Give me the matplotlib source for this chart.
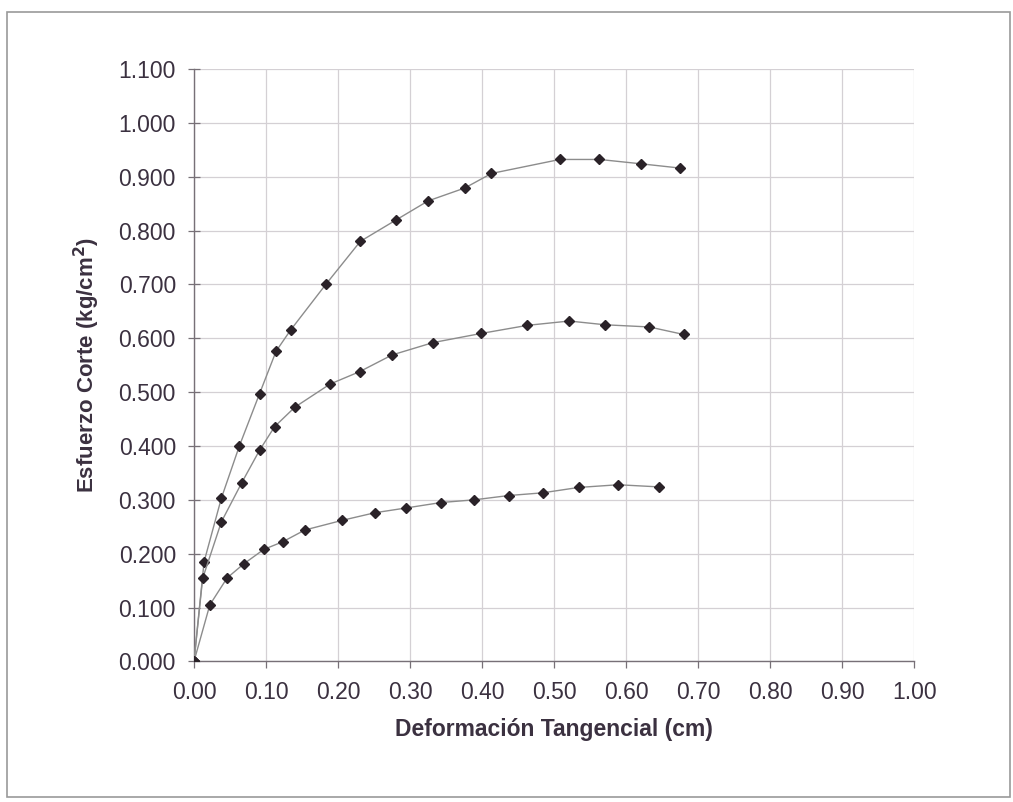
import matplotlib
matplotlib.use("Agg")
import matplotlib.pyplot as plt
from matplotlib.patches import Rectangle

# Data
x_top = [0.000, 0.014, 0.038, 0.063, 0.091, 0.114, 0.134, 0.183, 0.231, 0.281, 0.325, 0.376, 0.413, 0.508, 0.563, 0.620, 0.675]
y_top = [0.000, 0.185, 0.303, 0.400, 0.497, 0.576, 0.615, 0.700, 0.780, 0.820, 0.855, 0.879, 0.906, 0.932, 0.932, 0.924, 0.916]

x_mid = [0.000, 0.012, 0.038, 0.066, 0.091, 0.112, 0.140, 0.189, 0.230, 0.275, 0.332, 0.399, 0.463, 0.521, 0.571, 0.632, 0.680]
y_mid = [0.000, 0.154, 0.259, 0.331, 0.392, 0.436, 0.472, 0.515, 0.538, 0.569, 0.592, 0.609, 0.624, 0.632, 0.625, 0.621, 0.607]

x_bot = [0.000, 0.022, 0.046, 0.069, 0.097, 0.123, 0.154, 0.206, 0.251, 0.295, 0.343, 0.389, 0.437, 0.484, 0.534, 0.589, 0.646]
y_bot = [0.000, 0.105, 0.155, 0.181, 0.208, 0.222, 0.244, 0.262, 0.276, 0.285, 0.295, 0.300, 0.308, 0.313, 0.323, 0.328, 0.324]

x_ticks = [i / 10 for i in range(11)]
y_ticks = [i / 10 for i in range(12)]
x_labels = ["%.2f" % v for v in x_ticks]
y_labels = ["%.3f" % v for v in y_ticks]

plt.rcParams['font.family'] = ['Liberation Sans', 'DejaVu Sans']
text_color = '#3b3140'

fig = plt.figure(figsize=(10.13, 8.02), dpi=100)
fig.patch.set_facecolor('white')
fig.patches.append(Rectangle((0.007, 0.006), 0.99, 0.979, transform=fig.transFigure,
                             fill=False, edgecolor='#9a9a9a', linewidth=1.2))

ax = fig.add_axes([0.1915, 0.1753, 0.7110, 0.7387])
ax.set_xlim(0, 1.0)
ax.set_ylim(0, 1.1)
ax.set_xticks(x_ticks)
ax.set_xticklabels(x_labels)
ax.set_yticks(y_ticks)
ax.set_yticklabels(y_labels)
ax.grid(True, color='#d4d0d4', linewidth=0.9)
ax.set_axisbelow(True)
for s in ['top', 'right']:
    ax.spines[s].set_visible(False)
for s in ['left', 'bottom']:
    ax.spines[s].set_color('#777077')
    ax.spines[s].set_linewidth(1.0)
ax.tick_params(axis='y', direction='inout', length=8, width=0.9, color='#777077',
               labelsize=16.5, labelcolor=text_color, pad=9)
ax.tick_params(axis='x', direction='out', length=5, width=0.9, color='#777077',
               labelsize=16.5, labelcolor=text_color, pad=9)

for xs, ys in [(x_top, y_top), (x_mid, y_mid), (x_bot, y_bot)]:
    ax.plot(xs, ys, color='#8c8c8c', linewidth=1.0, marker='D', markersize=5,
            markerfacecolor='#2a2228', markeredgecolor='#2a2228', zorder=3)

ax.set_xlabel('Deformación Tangencial (cm)', fontsize=16.5, fontweight='bold',
              color=text_color, labelpad=10)
ax.set_ylabel('Esfuerzo Corte (kg/cm$^{\\mathbf{2}}$)', fontsize=16, fontweight='bold',
              color=text_color, labelpad=12)

fig.savefig('out.png', dpi=100, facecolor='white')
